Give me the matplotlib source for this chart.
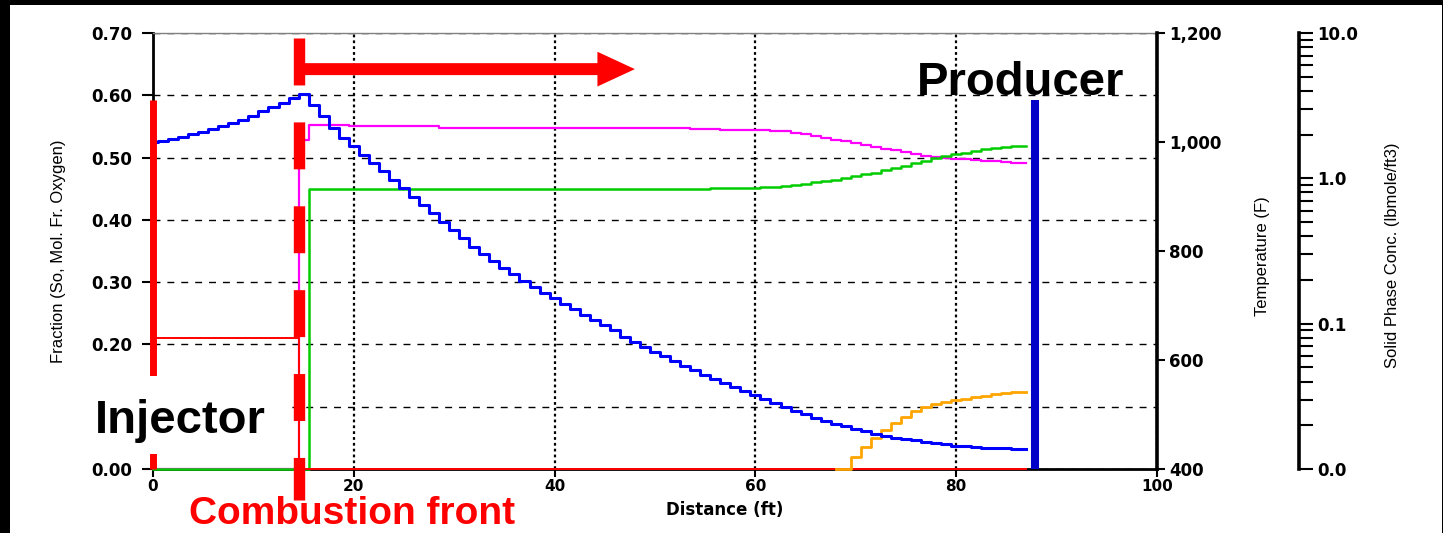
import numpy as np
import matplotlib
matplotlib.use("Agg")
import matplotlib.pyplot as plt
from matplotlib.patches import Rectangle
from matplotlib.ticker import LogLocator, NullFormatter

plt.rcParams["lines.scale_dashes"] = False
plt.rcParams["font.family"] = ["DejaVu Sans"]

# ---------------------------------------------------------------- data
# grid-block centres along the tube (ft)
distance = list(range(0, 88))

# temperature profile (F)
temperature = [
    1000, 1002, 1006, 1009, 1014, 1018, 1023, 1029, 1034, 1041,
    1048, 1056, 1064, 1072, 1080, 1088, 1067, 1047, 1026, 1007,
    992, 977, 961, 946, 930, 915, 899, 885, 870, 854,
    839, 824, 808, 794, 782, 769, 758, 745, 734, 723,
    713, 703, 693, 682, 673, 664, 655, 643, 633, 624,
    615, 607, 598, 589, 581, 573, 565, 558, 550, 543,
    536, 529, 521, 514, 507, 501, 494, 488, 482, 478,
    473, 469, 464, 461, 457, 455, 453, 449, 447, 445,
    443, 442, 440, 439, 438, 438, 437, 437,
]

# oil saturation So (fraction)
oil_saturation = [
    0.0, 0.0, 0.0, 0.0, 0.0, 0.0, 0.0, 0.0, 0.0, 0.0,
    0.0, 0.0, 0.0, 0.0, 0.0, 0.0, 0.449, 0.449, 0.449, 0.449,
    0.449, 0.449, 0.449, 0.449, 0.449, 0.449, 0.449, 0.449, 0.449, 0.449,
    0.449, 0.449, 0.449, 0.449, 0.449, 0.449, 0.449, 0.449, 0.449, 0.449,
    0.449, 0.450, 0.450, 0.450, 0.450, 0.450, 0.450, 0.450, 0.450, 0.450,
    0.450, 0.450, 0.450, 0.450, 0.450, 0.450, 0.451, 0.451, 0.451, 0.451,
    0.451, 0.452, 0.453, 0.455, 0.456, 0.458, 0.460, 0.462, 0.464, 0.467,
    0.470, 0.473, 0.476, 0.480, 0.484, 0.487, 0.491, 0.495, 0.499, 0.502,
    0.505, 0.508, 0.511, 0.513, 0.515, 0.517, 0.518, 0.519,
]

# gas saturation (fraction)
gas_saturation = [
    0.0, 0.0, 0.0, 0.0, 0.0, 0.0, 0.0, 0.0, 0.0, 0.0,
    0.0, 0.0, 0.0, 0.0, 0.0, 0.528, 0.553, 0.553, 0.553, 0.553,
    0.551, 0.551, 0.551, 0.551, 0.551, 0.551, 0.551, 0.551, 0.551, 0.548,
    0.548, 0.548, 0.548, 0.548, 0.548, 0.548, 0.548, 0.548, 0.548, 0.548,
    0.548, 0.548, 0.548, 0.548, 0.548, 0.548, 0.548, 0.548, 0.548, 0.548,
    0.548, 0.547, 0.547, 0.547, 0.546, 0.546, 0.546, 0.545, 0.545, 0.545,
    0.545, 0.544, 0.543, 0.542, 0.540, 0.538, 0.535, 0.532, 0.529, 0.526,
    0.523, 0.520, 0.517, 0.514, 0.512, 0.509, 0.506, 0.503, 0.501, 0.499,
    0.498, 0.497, 0.496, 0.495, 0.494, 0.493, 0.492, 0.492,
]

# oxygen mole fraction in the gas
oxygen = [
    0.21, 0.21, 0.21, 0.21, 0.21, 0.21, 0.21, 0.21, 0.21, 0.21,
    0.21, 0.21, 0.21, 0.21, 0.21, 0.0, 0.0, 0.0, 0.0, 0.0,
    0.0, 0.0, 0.0, 0.0, 0.0, 0.0, 0.0, 0.0, 0.0, 0.0,
    0.0, 0.0, 0.0, 0.0, 0.0, 0.0, 0.0, 0.0, 0.0, 0.0,
    0.0, 0.0, 0.0, 0.0, 0.0, 0.0, 0.0, 0.0, 0.0, 0.0,
    0.0, 0.0, 0.0, 0.0, 0.0, 0.0, 0.0, 0.0, 0.0, 0.0,
    0.0, 0.0, 0.0, 0.0, 0.0, 0.0, 0.0, 0.0, 0.0, 0.0,
    0.0, 0.0, 0.0, 0.0, 0.0, 0.0, 0.0, 0.0, 0.0, 0.0,
    0.0, 0.0, 0.0, 0.0, 0.0, 0.0, 0.0, 0.0,
]

# water bank arriving ahead of the oil bank (fraction)
bank_distance = list(range(68, 88))
bank_fraction = [
    0.0, 0.0, 0.019, 0.035, 0.050, 0.063, 0.074, 0.084, 0.093, 0.099,
    0.104, 0.107, 0.110, 0.113, 0.116, 0.118, 0.120, 0.122, 0.123, 0.124,
]

injector_x = 0.0
front_x = 14.5
producer_x = 87.8
well_top = 0.592

frac_ticks = [0.0, 0.1, 0.2, 0.3, 0.4, 0.5, 0.6, 0.7]
frac_labels = ["0.00", "", "0.20", "0.30", "0.40", "0.50", "0.60", "0.70"]
dist_ticks = [0, 20, 40, 60, 80, 100]
temp_ticks = [400, 600, 800, 1000, 1200]
temp_labels = ["400", "600", "800", "1,000", "1,200"]
conc_ticks = [0.01, 0.1, 1.0, 10.0]
conc_labels = ["0.0", "0.1", "1.0", "10.0"]

# ---------------------------------------------------------------- figure
W, H = 1443, 533
fig = plt.figure(figsize=(W / 100, H / 100), dpi=100)
fig.patch.set_facecolor("white")


def fx(px):
    return px / W


def fy(py):
    return 1 - py / H


left, right, top, bottom = 153, 1157, 33, 469
ax = fig.add_axes([fx(left), fy(bottom), fx(right - left), (bottom - top) / H])
ax.set_xlim(0, 100)
ax.set_ylim(0, 0.70)

tick_font = dict(fontsize=12, fontweight="bold", family="DejaVu Sans")
ax.set_xticks(dist_ticks, [str(t) for t in dist_ticks], fontsize=11,
              fontweight="bold", family="DejaVu Sans")
ax.set_yticks(frac_ticks, frac_labels, **tick_font)
ax.tick_params(axis="y", direction="out", length=8, width=1.5, pad=7)
ax.tick_params(axis="x", direction="out", length=5.5, width=1.5, pad=2)
ax.tick_params(right=False, top=False)

ax.yaxis.grid(True, color="black", linewidth=1.0, linestyle=(0, (5, 5)))
ax.xaxis.grid(True, color="black", linewidth=1.6, linestyle=(0, (2, 2.2)))

for side in ("left", "bottom"):
    ax.spines[side].set_linewidth(2.0)
    ax.spines[side].set_color("black")
ax.spines["top"].set_color("#808080")
ax.spines["top"].set_linewidth(1.0)
ax.spines["right"].set_visible(False)

# fraction curves
curve = dict(drawstyle="steps-mid", zorder=3, clip_on=False)
ax.plot(distance, gas_saturation, color="#ff00ff", lw=1.6, **curve)
ax.plot(distance, oil_saturation, color="#00cc00", lw=1.8, **curve)
ax.plot(distance, oxygen, color="#ff0000", lw=1.4, **curve)
ax.plot(bank_distance, bank_fraction, color="#ffa500", lw=2.0, **curve)

# temperature axis
tax = ax.twinx()
tax.set_ylim(400, 1200)
tax.set_yticks(temp_ticks, temp_labels, **tick_font)
tax.tick_params(axis="y", direction="out", length=6, width=1.5, pad=3)
for side in ("left", "top", "bottom"):
    tax.spines[side].set_visible(False)
tax.spines["right"].set_linewidth(2.6)
tax.plot(distance, temperature, drawstyle="steps-mid", color="#0000ff", lw=2.2)

# solid phase concentration axis (log)
sax = ax.twinx()
sax.spines["right"].set_position(("axes", (1299 - left) / (right - left)))
sax.set_yscale("log")
sax.set_ylim(0.01, 10)
sax.set_yticks(conc_ticks, conc_labels, **tick_font)
sax.yaxis.set_minor_locator(LogLocator(base=10, subs=np.arange(2, 10)))
sax.yaxis.set_minor_formatter(NullFormatter())
sax.tick_params(axis="y", which="both", direction="out", length=10, width=1.5, pad=3)
for side in ("left", "top", "bottom"):
    sax.spines[side].set_visible(False)
sax.spines["right"].set_linewidth(2.6)

# well markers and combustion front, drawn in fraction/distance units
dt = ax.transData
sax.plot([injector_x, injector_x], [0, well_top], transform=dt, color="#ff0000",
         lw=5.0, solid_capstyle="butt", clip_on=False, zorder=5)
sax.plot([producer_x, producer_x], [0, well_top], transform=dt, color="#0000c8",
         lw=5.8, solid_capstyle="butt", clip_on=False, zorder=5)
sax.plot([front_x, front_x], [0.692, -0.05], transform=dt, color="#ff0000",
         lw=8.2, linestyle=(0, (33.8, 26.6)), dash_capstyle="butt",
         clip_on=False, zorder=5)
sax.annotate("", xy=(48.0, 0.642), xytext=(front_x, 0.642),
             xycoords=dt, textcoords=dt, annotation_clip=False,
             arrowprops=dict(arrowstyle="simple,head_length=2.7,head_width=2.5,tail_width=0.86",
                             mutation_scale=10, color="#ff0000", lw=0,
                             shrinkA=0, shrinkB=0), zorder=5)

# axis titles
label_font = dict(fontsize=12, family=["Liberation Sans", "DejaVu Sans"],
                  rotation=90, ha="center", va="center")
fig.text(fx(59), fy(251), "Fraction (So, Mol. Fr. Oxygen)", **label_font)
fig.text(fx(1263), fy(256), "Temperature (F)", **label_font)
fig.text(fx(1392), fy(255), "Solid Phase Conc. (lbmole/ft3)", **label_font)
fig.text(fx(725), fy(510), "Distance (ft)", fontsize=12, fontweight="bold",
         family="DejaVu Sans", ha="center", va="center")

# annotations
fig.add_artist(Rectangle((fx(12), fy(454)), fx(287 - 12), (454 - 376) / H,
                         transform=fig.transFigure, facecolor="white",
                         edgecolor="none", zorder=5))
big = dict(fontsize=34, fontweight="bold", family=["Liberation Sans", "DejaVu Sans"],
           ha="center", va="baseline", zorder=6)
fig.text(fx(180), fy(433), "Injector", color="black", **big)
fig.text(fx(1021), fy(95), "Producer", color="black", **big)
big.update(fontsize=28, va="bottom")
fig.text(fx(352), fy(532.5), "Combustion front", color="#ff0000", **big)

# black frame around the picture
for rect in [(0, fy(5), 1, 5 / H), (0, 0, fx(10), 1), (fx(1442), 0, fx(1), 1)]:
    fig.add_artist(Rectangle(rect[:2], rect[2], rect[3], transform=fig.transFigure,
                             facecolor="black", edgecolor="none", zorder=10))

fig.savefig("out.png", dpi=100)
